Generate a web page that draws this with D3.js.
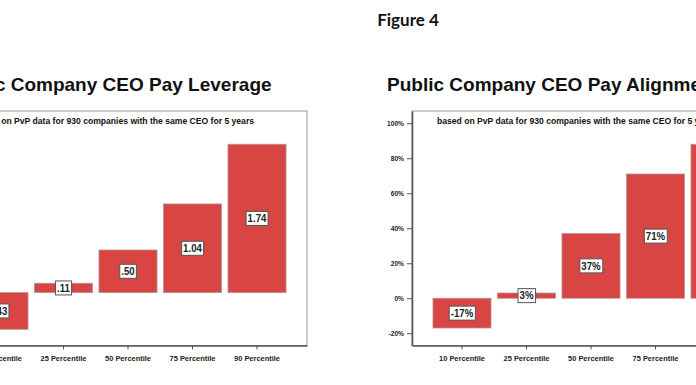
<!DOCTYPE html>
<html>
<head>
<meta charset="utf-8">
<script src="https://cdn.jsdelivr.net/npm/d3@7"></script>
<style>
  body { margin: 0; background: #fff; }
  svg { display: block; }
</style>
</head>
<body>
<div id="chart"></div>
<script>
(function () {

    const categories = ['10 Percentile', '25 Percentile', '50 Percentile', '75 Percentile', '90 Percentile'];
    const leverageValues = [-0.43, 0.11, 0.50, 1.04, 1.74];
    const alignmentValues = [-0.17, 0.03, 0.37, 0.71, 0.88];
    const leverageTicks = [-0.5, 0, 0.5, 1.0, 1.5, 2.0];
    const alignmentTicks = [-0.2, 0, 0.2, 0.4, 0.6, 0.8, 1.0];
    const subtitle = 'based on PvP data for 930 companies with the same CEO for 5 years';

    const width = 696;
    const height = 385;

    const svg = d3.select('#chart')
        .append('svg')
        .attr('width', width)
        .attr('height', height)

    svg.append('text')
        .attr('x', 408)
        .attr('y', 26)
        .attr('text-anchor', 'middle')
        .style('font-family', 'Lato, sans-serif')
        .style('font-weight', 'bold')
        .style('font-size', '17px')
        .attr('fill', '#111')
        .text('Figure 4')

    // squeeze text to look like the narrow SPSS font
    function squeeze(sel, k) {
        sel.each(function () {
            const len = this.getComputedTextLength();
            d3.select(this)
                .attr('textLength', len * k)
                .attr('lengthAdjust', 'spacingAndGlyphs')
        })
    }

    const locale = d3.formatLocale({ decimal: '.', thousands: ',', grouping: [3], currency: ['$', ''], minus: '-' });
    const noZero = v => locale.format('.2f')(v).replace(/^(-?)0\./, '$1.');
    const pct = locale.format('.0%');

    function drawChart(x0, title, titleX, values, domain, ticks, tickFmt, labelFmt) {

        const top = 111, bottom = 345.5, boxW = 358;

        const g = svg.append('g')

        const x = d3.scaleBand()
            .domain(categories)
            .range([x0, x0 + boxW])
            .paddingInner(0.1)
            .paddingOuter(0.325)

        const y = d3.scaleLinear()
            .domain(domain)
            .range([bottom, top])

        g.append('text')
            .attr('x', x0 + titleX)
            .attr('y', 91)
            .attr('text-anchor', 'middle')
            .style('font-family', 'Arial, "Liberation Sans", sans-serif')
            .style('font-weight', 'bold')
            .style('font-size', '19px')
            .attr('fill', '#111')
            .text(title)

        // frame
        g.append('rect')
            .attr('x', x0)
            .attr('y', top)
            .attr('width', boxW)
            .attr('height', bottom - top)
            .attr('fill', 'none')
            .attr('stroke', '#9a9a9a')
            .attr('stroke-width', 1)

        g.append('text')
            .attr('x', x0 + 25)
            .attr('y', 124)
            .style('font-family', 'Arial, "Liberation Sans", sans-serif')
            .style('font-weight', 'bold')
            .style('font-size', '8.5px')
            .attr('fill', '#111')
            .attr('textLength', 280)
            .attr('lengthAdjust', 'spacingAndGlyphs')
            .text(subtitle)

        g.append('g')
            .selectAll('rect')
            .data(values)
            .join('rect')
            .attr('x', (d, i) => x(categories[i]))
            .attr('y', d => y(Math.max(0, d)))
            .attr('width', x.bandwidth())
            .attr('height', d => Math.abs(y(d) - y(0)))
            .attr('fill', '#d94543')
            .attr('stroke', '#b49494')
            .attr('stroke-width', 0.8)

        const labels = g.append('g')
            .selectAll('g')
            .data(values)
            .join('g')
            .attr('transform', (d, i) => `translate(${x(categories[i]) + x.bandwidth() / 2},${(y(d) + y(0)) / 2})`)

        labels.append('rect')
            .attr('fill', '#fff')
            .attr('stroke', '#555')
            .attr('stroke-width', 1)

        labels.append('text')
            .attr('text-anchor', 'middle')
            .attr('dy', '0.36em')
            .style('font-family', 'Arial, "Liberation Sans", sans-serif')
            .style('font-weight', 'bold')
            .style('font-size', '10.5px')
            .attr('fill', '#222')
            .text(d => labelFmt(d))
            .call(squeeze, 0.92)

        labels.each(function () {
            const t = d3.select(this).select('text').node().getBBox();
            d3.select(this).select('rect')
                .attr('x', t.x - 1.5)
                .attr('y', -7)
                .attr('width', t.width + 3)
                .attr('height', 14)
        })

        // axes
        const xAxis = g.append('g')
            .attr('transform', `translate(0,${bottom})`)
            .call(d3.axisBottom(x).tickSize(4).tickSizeOuter(0))

        const yAxis = g.append('g')
            .attr('transform', `translate(${x0},0)`)
            .call(d3.axisLeft(y).tickValues(ticks).tickFormat(tickFmt).tickSize(5).tickSizeOuter(0))

        for (const ax of [xAxis, yAxis]) {
            ax.select('.domain').attr('stroke', '#555').attr('stroke-width', 1.6)
            ax.selectAll('.tick line').attr('stroke', '#555')
            ax.selectAll('text')
                .style('font-family', 'Arial, "Liberation Sans", sans-serif')
                .style('font-weight', 'bold')
                .attr('fill', '#222')
        }

        xAxis.selectAll('text')
            .attr('y', 10)
            .style('font-size', '8px')
            .call(squeeze, 0.93)

        yAxis.selectAll('text')
            .attr('x', -8)
            .style('font-size', '7px')
            .call(squeeze, 0.95)
    }

    drawChart(-51, 'Public Company CEO Pay Leverage', 161, leverageValues, [-0.62, 2.13],
        leverageTicks, noZero, noZero)

    drawChart(412, 'Public Company CEO Pay Alignment', 141, alignmentValues, [-0.27, 1.07],
        alignmentTicks, pct, pct)

})();
</script>
</body>
</html>
